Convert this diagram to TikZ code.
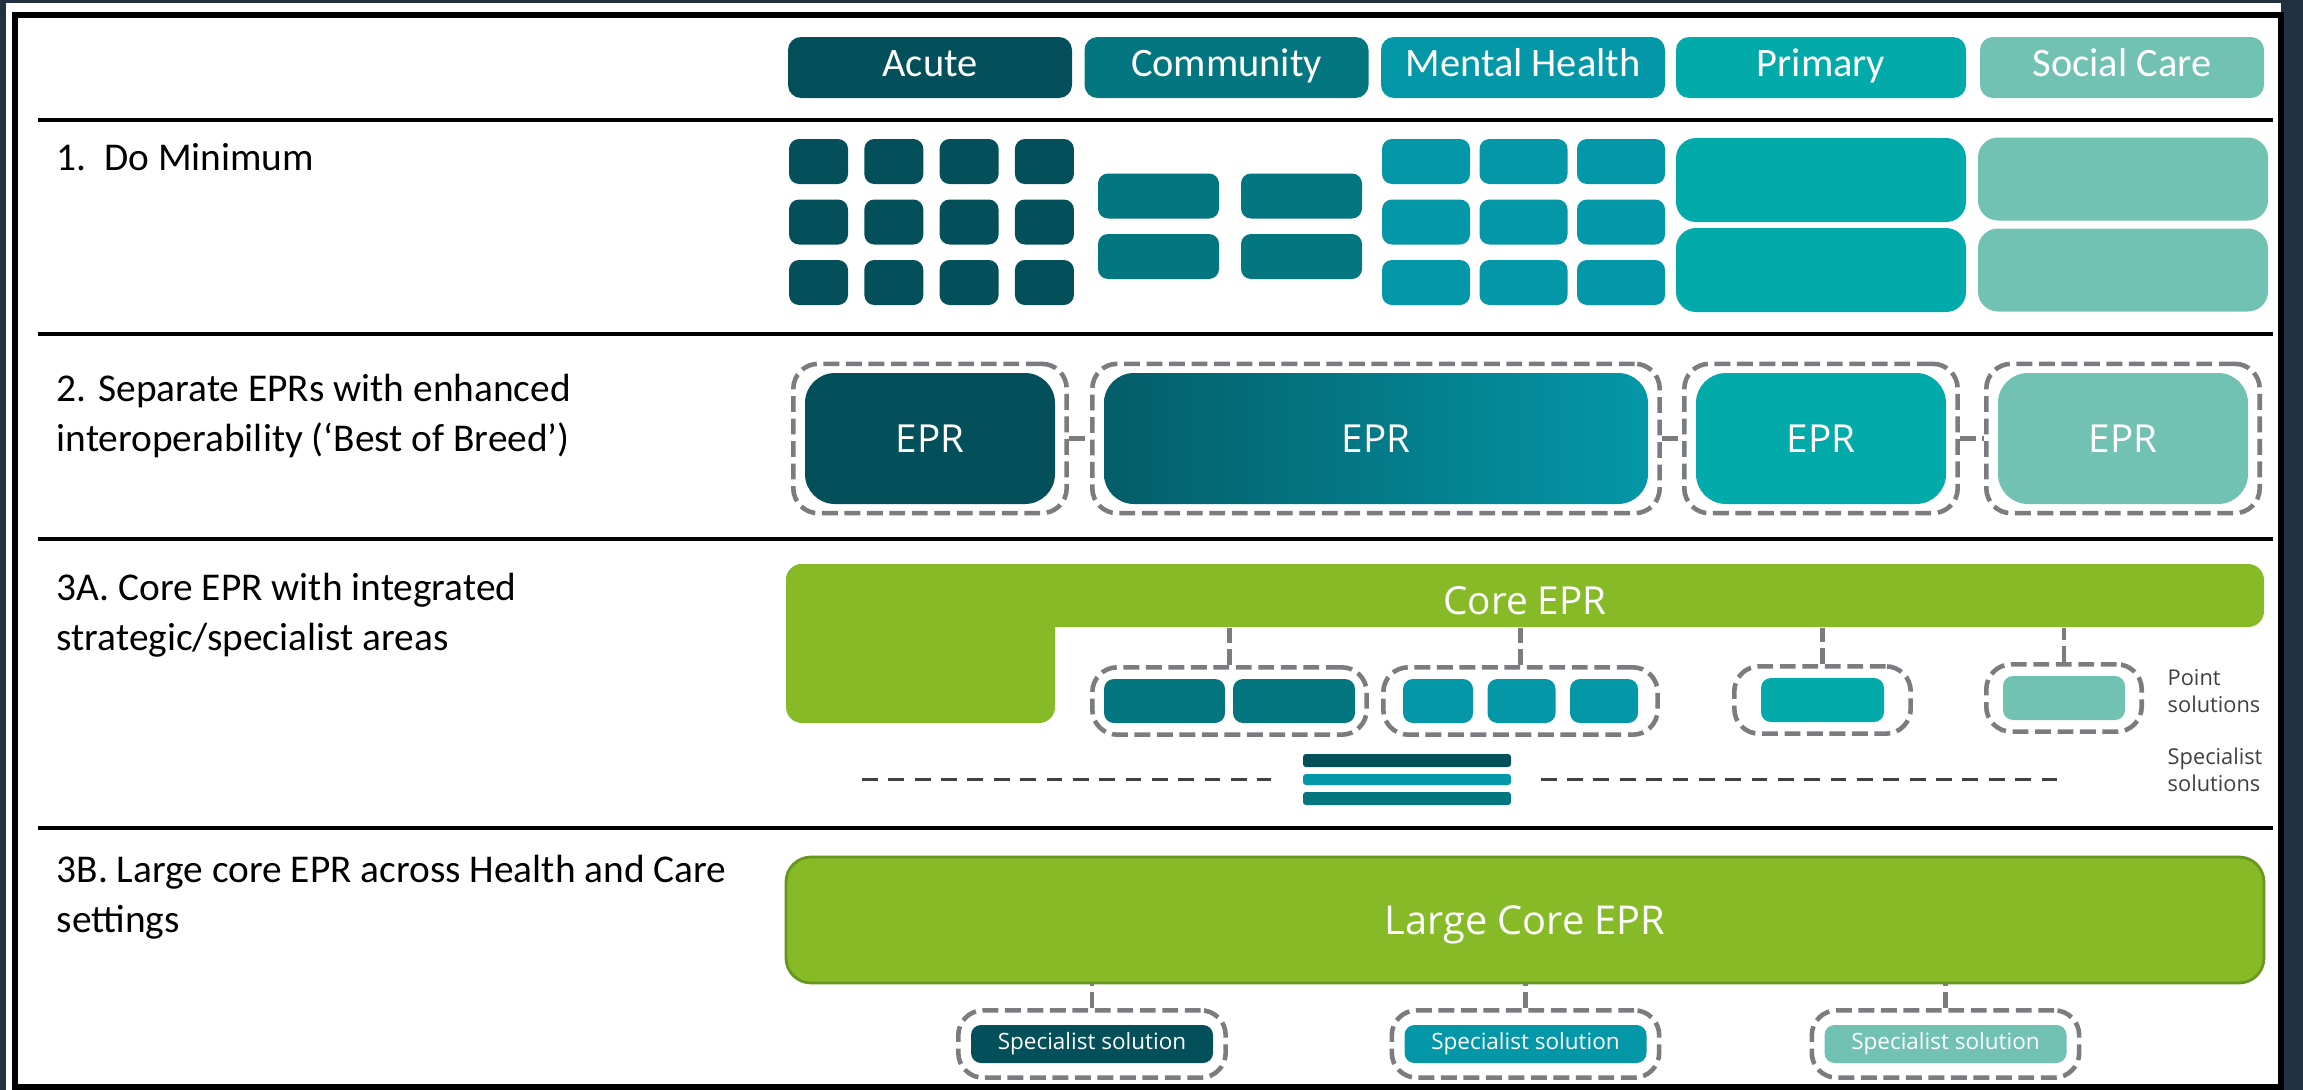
\documentclass[tikz,border=0pt]{standalone}
\usepackage{fontspec}
\setmainfont{Carlito}
\newfontfamily\boxfont{Open Sans}
\usepackage{tikz}
\usetikzlibrary{fit}

\definecolor{acute}{RGB}{3,79,90}
\definecolor{comm}{RGB}{3,118,128}
\definecolor{mh}{RGB}{4,151,168}
\definecolor{prim}{RGB}{2,170,170}
\definecolor{social}{RGB}{113,194,179}
\definecolor{eprdeep}{RGB}{4,93,104}
\definecolor{coregreen}{RGB}{134,187,39}
\definecolor{coreedge}{RGB}{104,150,30}
\definecolor{linegray}{RGB}{122,124,128}
\definecolor{specgray}{RGB}{64,64,64}
\definecolor{bgdark}{RGB}{34,49,66}

\newcommand\hdrfont{\fontsize{11.5}{13}\selectfont}
\newcommand\lblfont{\fontsize{11.2}{14.2}\selectfont}
\newcommand\eprfont{\boxfont\fontsize{11}{13}\selectfont}
\newcommand\tinyfont{\boxfont\fontsize{6.2}{7.7}\selectfont}

\tikzset{
  hdr/.style={fill=#1, rounded corners=1.3mm, minimum width=28.4mm,
    minimum height=6.1mm, inner sep=0pt, text height=1.6ex, text depth=0.5ex,
    text=white, font=\hdrfont},
  blk/.style={rounded corners=1mm, inner sep=0pt, minimum height=4.5mm},
  epr/.style={rounded corners=3mm, minimum width=25mm, minimum height=13.1mm,
    inner sep=0pt, text=white, font=\eprfont},
  dashbox/.style={draw=linegray, line width=1.3pt, dash pattern=on 4.5pt off 1.9pt,
    rounded corners=2.5mm, inner xsep=1.1mm, inner ysep=0.85mm},
  link/.style={draw=linegray, line width=1.3pt, dash pattern=on 4.5pt off 1.9pt},
  specline/.style={draw=specgray, line width=0.9pt, dash pattern=on 4.5pt off 3pt},
  bar/.style={minimum width=20.8mm, minimum height=1.3mm, inner sep=0pt,
    rounded corners=0.3mm},
  spec/.style={fill=#1, minimum width=24.2mm, minimum height=3.8mm, inner sep=0pt,
    rounded corners=1mm, text=white, font=\boxfont\fontsize{6.4}{7}\selectfont},
  note/.style={anchor=north west, align=left, inner sep=0pt, text=specgray,
    font=\tinyfont},
}

\begin{document}
\begin{tikzpicture}[x=0.1mm, y=-0.1mm]
  \useasboundingbox (0,0) rectangle (2303,1090);
  % frame
  \fill[bgdark] (0,0) rectangle (2303,1090);
  \fill[white] (6,3) rectangle (2281,1090);
  \draw[line width=1.5pt] (15,15) rectangle (2281,1087);
  \foreach \y in {120,334,539,828}
    \draw[line width=1.1pt] (38,\y) -- (2273,\y);

  % row labels (base = last line)
  \begin{scope}[every node/.style={anchor=base west, align=left, inner sep=0pt, font=\lblfont}]
    \node (l1) at (56,170) {1.\hspace{0.45em}Do Minimum};
    \node (l2) at (56,451) {2. Separate EPRs with enhanced\\interoperability (‘Best of Breed’)};
    \node (l3) at (56,650) {3A. Core EPR with integrated\\strategic/specialist areas};
    \node (l4) at (56,932) {3B. Large core EPR across Health and Care\\settings};
  \end{scope}

  % settings
  \node[hdr=acute] (acute) at (930,67.5) {Acute};
  \node[hdr=comm] (comm) at (1226.5,67.5) {Community};
  \node[hdr=mh] (mh) at (1523,67.5) {Mental Health};
  \node[hdr=prim, minimum width=29mm] (prim) at (1821,67.5) {Primary};
  \node[hdr=social] (social) at (2122,67.5) {Social Care};

  % 1. do minimum
  \foreach \c in {0,...,3}
    \foreach \r in {0,1,2}
      \node[blk, fill=acute, minimum width=5.9mm] (a\c\r) at ({818.5+75.3*\c},{161.5+60.5*\r}) {};
  \foreach \c in {0,1}
    \foreach \r in {0,1}
      \node[blk, fill=comm, minimum width=12.1mm] (c\c\r) at ({1158.5+143*\c},{196+60.5*\r}) {};
  \foreach \c in {0,1,2}
    \foreach \r in {0,1,2}
      \node[blk, fill=mh, minimum width=8.8mm] (m\c\r) at ({1426+97.5*\c},{161.5+60.5*\r}) {};
  \foreach \r in {0,1}{
    \node[blk, fill=prim, rounded corners=2mm, minimum width=29mm, minimum height=8.4mm] (p\r) at (1821,{180+90*\r}) {};
    \node[blk, fill=social, rounded corners=2mm, minimum width=29mm, minimum height=8.3mm] (s\r) at (2123,{179+91*\r}) {};
  }

  % 2. best of breed
  \node[epr, fill=acute] (e1) at (930,438.5) {EPR};
  \node[epr, left color=eprdeep, right color=mh, minimum width=54.4mm] (e2) at (1376,438.5) {EPR};
  \node[epr, fill=prim] (e3) at (1821,438.5) {EPR};
  \node[epr, fill=social] (e4) at (2123,438.5) {EPR};
  \foreach \n in {1,...,4}
    \node[dashbox, fit=(e\n)] (d\n) {};
  \draw[link] (d1) -- (d2);
  \draw[link] (d2) -- (d3);
  \draw[link] (d3) -- (d4);

  % 3A. core EPR
  \fill[coregreen, rounded corners=1.6mm] (786,564) rectangle (1055,723);
  \node[fill=coregreen, rounded corners=1.6mm, minimum width=147.8mm, minimum height=6.3mm,
    inner sep=0pt, text height=3.7mm, text depth=0pt, text=white, font=\eprfont] (core) at (1525,595.5) {Core EPR};
  \begin{scope}[every node/.style={blk, minimum height=4.4mm}]
    \node[fill=comm, minimum width=12.1mm] (pt1) at (1164.5,701) {};
    \node[fill=comm, minimum width=12.2mm] (pt2) at (1294,701) {};
    \node[fill=mh, minimum width=7mm] (pt3) at (1438,701) {};
    \node[fill=mh, minimum width=6.8mm] (pt4) at (1521.5,701) {};
    \node[fill=mh, minimum width=6.8mm] (pt5) at (1604,701) {};
    \node[fill=prim, minimum width=12.3mm] (pt6) at (1822.5,700) {};
    \node[fill=social, minimum width=12.2mm] (pt7) at (2064,698) {};
  \end{scope}
  \node[dashbox, inner ysep=1.1mm, fit=(pt1)(pt2)] (g1) {};
  \node[dashbox, inner ysep=1.1mm, inner xsep=1.9mm, fit=(pt3)(pt5)] (g2) {};
  \node[dashbox, inner ysep=1.1mm, inner xsep=2.6mm, fit=(pt6)] (g3) {};
  \node[dashbox, inner ysep=1.1mm, inner xsep=1.6mm, fit=(pt7)] (g4) {};
  \foreach \g in {1,...,4}
    \draw[link] (g\g.north) -- (g\g.north |- core.south);

  \node[bar, fill=acute] (bar1) at (1407,760.5) {};
  \node[bar, fill=mh, minimum height=1.1mm] (bar2) at (1407,779.5) {};
  \node[bar, fill=comm] (bar3) at (1407,798.5) {};
  \coordinate (sl) at (862,779.5);
  \coordinate (sr) at (2058,779.5);
  \draw[specline] (sl) -- ([xshift=-3.1mm]bar2.west);
  \draw[specline] ([xshift=2.9mm]bar2.east) -- (sr);

  \node[note] (ptlab) at (2167,669) {Point\\solutions};
  \node[note] (splab) at (2167,747) {Specialist\\solutions};

  % 3B. large core EPR
  \node[fill=coregreen, draw=coreedge, line width=0.8pt, rounded corners=2.5mm,
    minimum width=147.8mm, minimum height=12.6mm, inner sep=0pt, text depth=0pt, text=white,
    font=\boxfont\fontsize{11.3}{13}\selectfont] (large) at (1525,920) {Large Core EPR};
  \node[spec=acute] (sp1) at (1092,1044) {Specialist solution};
  \node[spec=mh] (sp2) at (1525.5,1044) {Specialist solution};
  \node[spec=social] (sp3) at (1945.5,1044) {Specialist solution};
  \foreach \n in {1,2,3}{
    \node[dashbox, inner xsep=1.2mm, inner ysep=1.4mm, fit=(sp\n)] (sd\n) {};
    \draw[link] (sd\n.north) -- (sd\n.north |- large.south);
  }
\end{tikzpicture}
\end{document}
